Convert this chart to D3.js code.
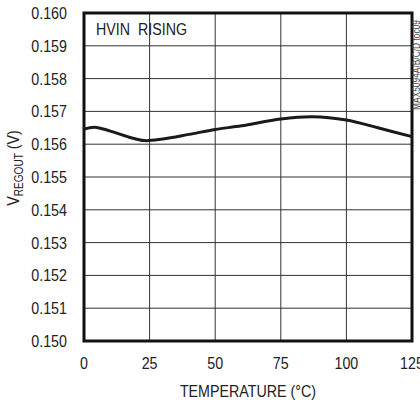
<!DOCTYPE html>
<html>
<head>
<meta charset="utf-8">
<script src="https://cdn.jsdelivr.net/npm/d3@7"></script>
<style>
  body { margin: 0; background: #fff; }
  text { font-family: "Liberation Sans", Arial, sans-serif; fill: #222; white-space: pre; }
</style>
</head>
<body>
<div id="chart"></div>
<script>
// temperature (°C) vs regulator output (V)
const temps = [0, 4, 10, 17, 23, 30, 40, 50, 60, 75, 87, 100, 112, 125];
const vregout = [0.15646, 0.15652, 0.15640, 0.15622, 0.15611, 0.15616, 0.15630, 0.15645, 0.15656, 0.15677, 0.15684, 0.15674, 0.15650, 0.15623];
const xTicks = [0, 25, 50, 75, 100, 125];
const yTicks = [0.150, 0.151, 0.152, 0.153, 0.154, 0.155, 0.156, 0.157, 0.158, 0.159, 0.160];

const width = 420, height = 400;
const margin = { top: 13, right: 8, bottom: 59, left: 84 };
const squeeze = 0.84; // condensed look

const svg = d3.select("#chart").append("svg")
    .attr("width", width)
    .attr("height", height);

const x = d3.scaleLinear().domain([0, 125]).range([margin.left, width - margin.right]);
const y = d3.scaleLinear().domain([0.150, 0.160]).range([height - margin.bottom, margin.top]);

function label(px, py, str, size, anchor, rot) {
    return svg.append("text")
        .attr("transform", `translate(${px},${py})` + (rot ? ` rotate(${rot})` : "") + ` scale(${squeeze},1)`)
        .attr("text-anchor", anchor || "start")
        .style("font-size", size + "px")
        .text(str);
}

// grid
svg.append("g")
    .selectAll("line")
    .data(xTicks.slice(1, -1))
    .join("line")
    .attr("x1", d => x(d)).attr("x2", d => x(d))
    .attr("y1", y(0.150)).attr("y2", y(0.160))
    .attr("stroke", "#333").attr("stroke-width", 1);

svg.append("g")
    .selectAll("line")
    .data(yTicks.slice(1, -1))
    .join("line")
    .attr("x1", x(0)).attr("x2", x(125))
    .attr("y1", d => y(d)).attr("y2", d => y(d))
    .attr("stroke", "#333").attr("stroke-width", 1);

// frame
svg.append("rect")
    .attr("x", x(0)).attr("y", y(0.160))
    .attr("width", x(125) - x(0))
    .attr("height", y(0.150) - y(0.160))
    .attr("fill", "none")
    .attr("stroke", "#111")
    .attr("stroke-width", 3);

// curve
const line = d3.line()
    .x((d, i) => x(temps[i]))
    .y(d => y(d))
    .curve(d3.curveCatmullRom.alpha(0.5));

svg.append("path")
    .datum(vregout)
    .attr("d", line)
    .attr("fill", "none")
    .attr("stroke", "#1a1a1a")
    .attr("stroke-width", 3);

// tick labels
yTicks.forEach(d => {
    label(67, y(d), d3.format(".3f")(d), 17, "end").attr("dy", "0.35em");
});
xTicks.forEach(d => {
    label(x(d), 369, d, 17, "middle");
});

// axis titles
label(248, 397, "TEMPERATURE (°C)", 17, "middle");

const yt = label(19, 168, "", 17, "middle", -90);
yt.append("tspan").text("V");
yt.append("tspan").attr("dy", 4).style("font-size", "12px").text("REGOUT");
yt.append("tspan").attr("dy", -4).text(" (V)");

label(96, 35, "HVIN  RISING", 17, "start");

label(420, 110, "MAX5094A/B/C/D toc09", 10, "start", -90)
    .style("fill", "#444");
</script>
</body>
</html>
